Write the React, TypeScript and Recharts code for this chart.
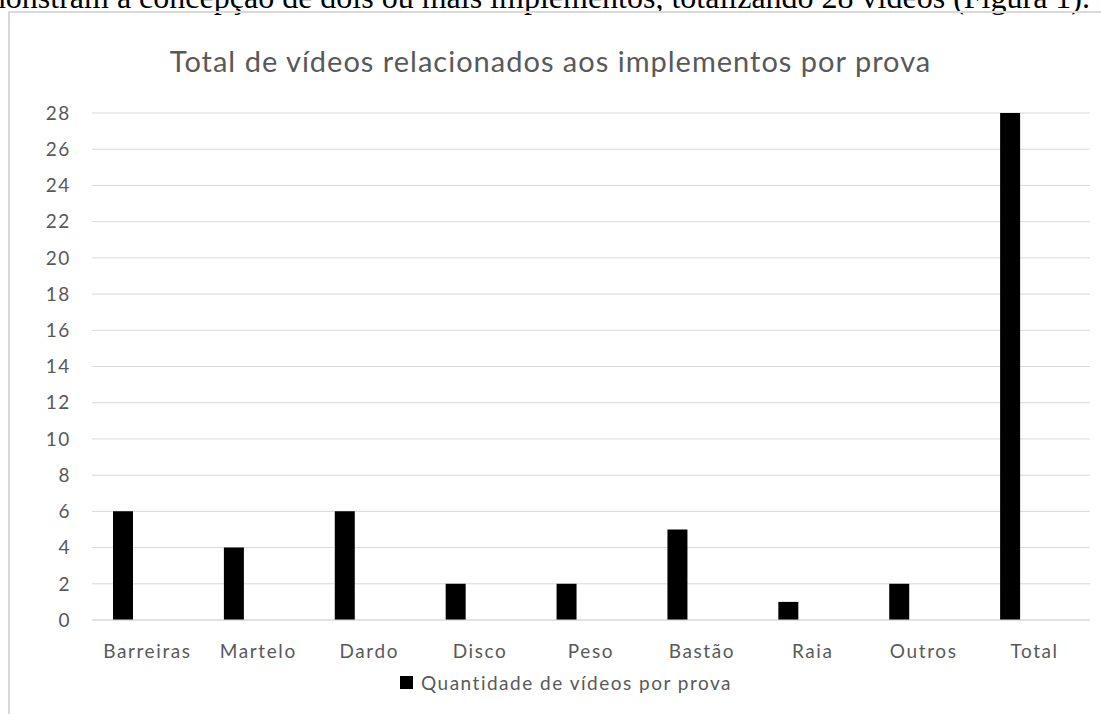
import React from "react";
import { BarChart, Bar, XAxis, YAxis, CartesianGrid } from "recharts";

const categories = ["Barreiras", "Martelo", "Dardo", "Disco", "Peso", "Bastão", "Raia", "Outros", "Total"];
const videos = [6, 4, 6, 2, 2, 5, 1, 2, 28];
// empty second series from the spreadsheet, keeps the bars off-centre like the original
const blank = [0, 0, 0, 0, 0, 0, 0, 0, 0];
const yTicks = [0, 2, 4, 6, 8, 10, 12, 14, 16, 18, 20, 22, 24, 26, 28];

const data = categories.map((name, i) => ({ name, videos: videos[i], blank: blank[i] }));

const FONT = "Lato, 'Open Sans', sans-serif";
const GREY = "#595959";

export default function App() {
  return (
    <div
      style={{
        position: "fixed",
        left: 0,
        top: 0,
        width: 1101,
        height: 714,
        overflow: "hidden",
        background: "#fff",
      }}
    >
      <div
        style={{
          position: "absolute",
          right: 11,
          top: -19,
          whiteSpace: "nowrap",
          fontFamily: "'Liberation Serif', 'Times New Roman', serif",
          fontSize: 32,
          lineHeight: "32px",
          color: "#000",
        }}
      >
        demonstram a concepção de dois ou mais implementos, totalizando 28 vídeos (Figura 1).
      </div>

      <div
        style={{
          position: "absolute",
          left: 8,
          top: 11,
          width: 1110,
          height: 720,
          borderLeft: "2px solid #d9d9d9",
          borderTop: "2px solid #d9d9d9",
        }}
      />

      <div
        style={{
          position: "absolute",
          left: 0,
          top: 43,
          width: 1101,
          textAlign: "center",
          fontFamily: FONT,
          fontSize: 29,
          letterSpacing: 1,
          color: GREY,
        }}
      >
        Total de vídeos relacionados aos implementos por prova
      </div>

      <div style={{ position: "absolute", left: 0, top: 0 }}>
        <BarChart
          width={1101}
          height={714}
          data={data}
          margin={{ top: 113, right: 11, bottom: 64, left: 32 }}
          barGap={28}
        >
          <CartesianGrid vertical={false} stroke="#d9d9d9" />
          <XAxis
            dataKey="name"
            height={30}
            axisLine={{ stroke: "#d9d9d9" }}
            tickLine={false}
            tickMargin={19}
            tick={{ fill: GREY, fontSize: 19, fontFamily: FONT, letterSpacing: 1.6 }}
            interval={0}
          />
          <YAxis
            width={60}
            domain={[0, 28]}
            ticks={yTicks}
            axisLine={false}
            tickLine={false}
            tickMargin={15}
            tick={{ fill: GREY, fontSize: 19, fontFamily: FONT, letterSpacing: 1.6 }}
          />
          <Bar dataKey="videos" fill="#000" barSize={20} isAnimationActive={false} />
          <Bar dataKey="blank" fill="none" barSize={20} isAnimationActive={false} />
        </BarChart>
      </div>

      <div
        style={{
          position: "absolute",
          left: 400,
          top: 671,
          display: "flex",
          alignItems: "center",
          fontFamily: FONT,
          fontSize: 19,
          letterSpacing: 1.5,
          color: GREY,
        }}
      >
        <span style={{ display: "inline-block", width: 13, height: 13, background: "#000", marginRight: 8 }} />
        Quantidade de vídeos por prova
      </div>
    </div>
  );
}
